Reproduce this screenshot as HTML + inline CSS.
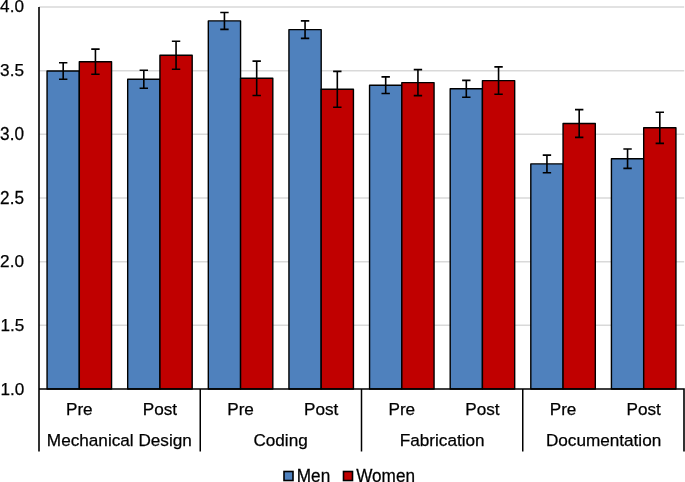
<!DOCTYPE html><html><head><meta charset="utf-8"><title>Chart</title><style>html,body{margin:0;padding:0;background:#fff;}svg{display:block;will-change:transform;}text{font-family:"Liberation Sans",sans-serif;font-size:17.17px;fill:#000;stroke:#000;stroke-width:0.25px;}</style></head><body>
<svg width="685" height="482" viewBox="0 0 685 482">
<line x1="39.0" y1="7.00" x2="684.2" y2="7.00" stroke="#D9D9D9" stroke-width="1.5"/>
<line x1="39.0" y1="70.67" x2="684.2" y2="70.67" stroke="#D9D9D9" stroke-width="1.5"/>
<line x1="39.0" y1="134.33" x2="684.2" y2="134.33" stroke="#D9D9D9" stroke-width="1.5"/>
<line x1="39.0" y1="198.00" x2="684.2" y2="198.00" stroke="#D9D9D9" stroke-width="1.5"/>
<line x1="39.0" y1="261.67" x2="684.2" y2="261.67" stroke="#D9D9D9" stroke-width="1.5"/>
<line x1="39.0" y1="325.33" x2="684.2" y2="325.33" stroke="#D9D9D9" stroke-width="1.5"/>
<rect x="47.06" y="71.00" width="32.25" height="318.00" fill="#4F81BD" stroke="#000" stroke-width="1.4" stroke-linejoin="round"/>
<rect x="79.31" y="61.70" width="32.25" height="327.30" fill="#C00000" stroke="#000" stroke-width="1.4" stroke-linejoin="round"/>
<rect x="127.69" y="79.20" width="32.25" height="309.80" fill="#4F81BD" stroke="#000" stroke-width="1.4" stroke-linejoin="round"/>
<rect x="159.94" y="55.30" width="32.25" height="333.70" fill="#C00000" stroke="#000" stroke-width="1.4" stroke-linejoin="round"/>
<rect x="208.31" y="20.90" width="32.25" height="368.10" fill="#4F81BD" stroke="#000" stroke-width="1.4" stroke-linejoin="round"/>
<rect x="240.56" y="78.30" width="32.25" height="310.70" fill="#C00000" stroke="#000" stroke-width="1.4" stroke-linejoin="round"/>
<rect x="288.94" y="29.60" width="32.25" height="359.40" fill="#4F81BD" stroke="#000" stroke-width="1.4" stroke-linejoin="round"/>
<rect x="321.19" y="89.30" width="32.25" height="299.70" fill="#C00000" stroke="#000" stroke-width="1.4" stroke-linejoin="round"/>
<rect x="369.56" y="85.20" width="32.25" height="303.80" fill="#4F81BD" stroke="#000" stroke-width="1.4" stroke-linejoin="round"/>
<rect x="401.81" y="82.60" width="32.25" height="306.40" fill="#C00000" stroke="#000" stroke-width="1.4" stroke-linejoin="round"/>
<rect x="450.19" y="88.80" width="32.25" height="300.20" fill="#4F81BD" stroke="#000" stroke-width="1.4" stroke-linejoin="round"/>
<rect x="482.44" y="80.60" width="32.25" height="308.40" fill="#C00000" stroke="#000" stroke-width="1.4" stroke-linejoin="round"/>
<rect x="530.81" y="163.90" width="32.25" height="225.10" fill="#4F81BD" stroke="#000" stroke-width="1.4" stroke-linejoin="round"/>
<rect x="563.06" y="123.50" width="32.25" height="265.50" fill="#C00000" stroke="#000" stroke-width="1.4" stroke-linejoin="round"/>
<rect x="611.43" y="158.70" width="32.25" height="230.30" fill="#4F81BD" stroke="#000" stroke-width="1.4" stroke-linejoin="round"/>
<rect x="643.69" y="127.80" width="32.25" height="261.20" fill="#C00000" stroke="#000" stroke-width="1.4" stroke-linejoin="round"/>
<path d="M63.19 62.80V79.20M58.99 62.80H67.39M58.99 79.20H67.39" stroke="#000" stroke-width="1.6" fill="none"/>
<path d="M95.44 49.10V74.30M91.24 49.10H99.64M91.24 74.30H99.64" stroke="#000" stroke-width="1.6" fill="none"/>
<path d="M143.81 70.20V88.20M139.61 70.20H148.01M139.61 88.20H148.01" stroke="#000" stroke-width="1.6" fill="none"/>
<path d="M176.06 41.30V69.30M171.86 41.30H180.26M171.86 69.30H180.26" stroke="#000" stroke-width="1.6" fill="none"/>
<path d="M224.44 12.45V29.35M220.24 12.45H228.64M220.24 29.35H228.64" stroke="#000" stroke-width="1.6" fill="none"/>
<path d="M256.69 61.10V95.50M252.49 61.10H260.89M252.49 95.50H260.89" stroke="#000" stroke-width="1.6" fill="none"/>
<path d="M305.06 20.85V38.35M300.86 20.85H309.26M300.86 38.35H309.26" stroke="#000" stroke-width="1.6" fill="none"/>
<path d="M337.31 71.40V107.20M333.11 71.40H341.51M333.11 107.20H341.51" stroke="#000" stroke-width="1.6" fill="none"/>
<path d="M385.69 76.90V93.50M381.49 76.90H389.89M381.49 93.50H389.89" stroke="#000" stroke-width="1.6" fill="none"/>
<path d="M417.94 69.60V95.60M413.74 69.60H422.14M413.74 95.60H422.14" stroke="#000" stroke-width="1.6" fill="none"/>
<path d="M466.31 80.40V97.20M462.11 80.40H470.51M462.11 97.20H470.51" stroke="#000" stroke-width="1.6" fill="none"/>
<path d="M498.56 66.90V94.30M494.36 66.90H502.76M494.36 94.30H502.76" stroke="#000" stroke-width="1.6" fill="none"/>
<path d="M546.94 155.10V172.70M542.74 155.10H551.14M542.74 172.70H551.14" stroke="#000" stroke-width="1.6" fill="none"/>
<path d="M579.19 109.65V137.35M574.99 109.65H583.39M574.99 137.35H583.39" stroke="#000" stroke-width="1.6" fill="none"/>
<path d="M627.56 149.05V168.35M623.36 149.05H631.76M623.36 168.35H631.76" stroke="#000" stroke-width="1.6" fill="none"/>
<path d="M659.81 112.20V143.40M655.61 112.20H664.01M655.61 143.40H664.01" stroke="#000" stroke-width="1.6" fill="none"/>
<path d="M39.0 7.0V451.5M39.0 389.0H684V451.5" stroke="#000" stroke-width="1.6" fill="none"/>
<line x1="200.25" y1="389.0" x2="200.25" y2="451.5" stroke="#000" stroke-width="1.5"/>
<line x1="361.50" y1="389.0" x2="361.50" y2="451.5" stroke="#000" stroke-width="1.5"/>
<line x1="522.75" y1="389.0" x2="522.75" y2="451.5" stroke="#000" stroke-width="1.5"/>
<text x="0.10" y="12.00">4.0</text>
<text x="0.10" y="76.00">3.5</text>
<text transform="translate(0.10 140.00) scale(1 1.02)">3.0</text>
<text transform="translate(0.10 204.00) scale(1 1.04)">2.5</text>
<text x="0.10" y="267.00">2.0</text>
<text x="0.40" y="331.00">1.5</text>
<text x="0.40" y="395.00">1.0</text>
<text x="79.31" y="415.00" text-anchor="middle">Pre</text>
<text x="159.94" y="415.00" text-anchor="middle">Post</text>
<text x="240.56" y="415.00" text-anchor="middle">Pre</text>
<text x="321.19" y="415.00" text-anchor="middle">Post</text>
<text x="401.81" y="415.00" text-anchor="middle">Pre</text>
<text x="482.44" y="415.00" text-anchor="middle">Post</text>
<text x="563.06" y="415.00" text-anchor="middle">Pre</text>
<text x="643.69" y="415.00" text-anchor="middle">Post</text>
<text x="119.33" y="446.00" text-anchor="middle">Mechanical Design</text>
<text x="280.57" y="446.00" text-anchor="middle">Coding</text>
<text x="442.23" y="446.00" text-anchor="middle">Fabrication</text>
<text x="603.58" y="446.00" text-anchor="middle">Documentation</text>
<rect x="284.0" y="471.5" width="9" height="9" fill="#4F81BD" stroke="#000" stroke-width="1.6"/>
<text transform="translate(296.80 482.00) scale(1 1.04)">Men</text>
<rect x="343.5" y="471.5" width="9" height="9" fill="#C00000" stroke="#000" stroke-width="1.6"/>
<text transform="translate(356.20 482.00) scale(1 1.04)">Women</text>
</svg></body></html>
